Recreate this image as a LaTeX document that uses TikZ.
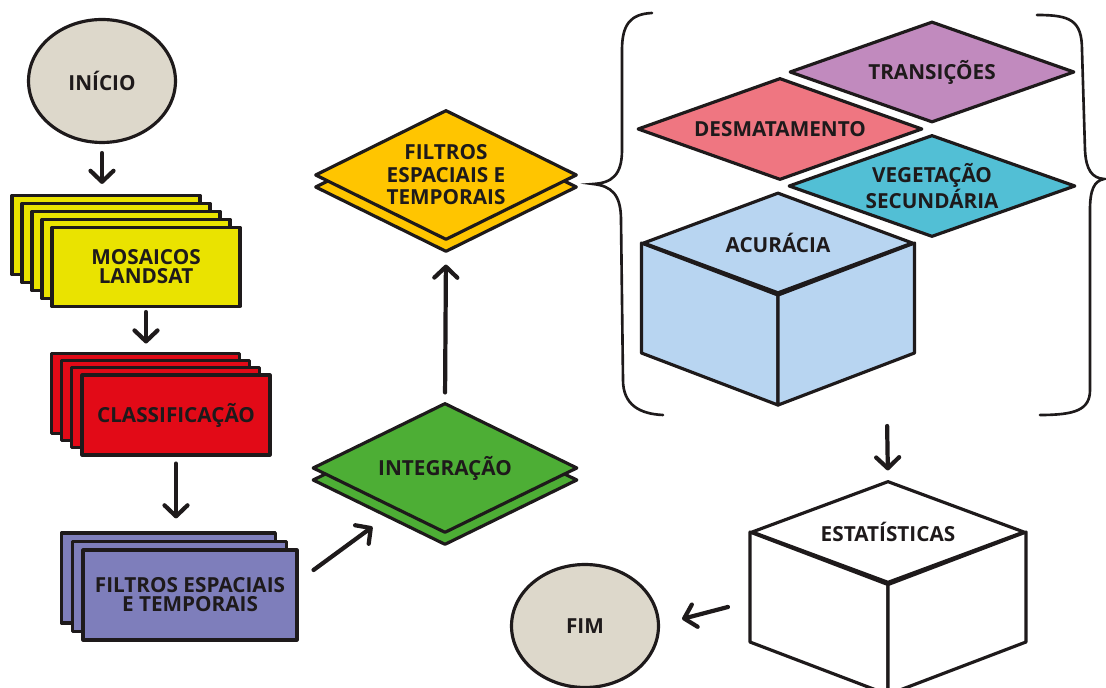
\documentclass[tikz,border=0pt]{standalone}
\usepackage{fontspec}
\setmainfont{Open Sans}
\usetikzlibrary{shapes.geometric,arrows.meta}

\definecolor{ink}{HTML}{1E1A1B}
\definecolor{bege}{HTML}{DDD8CB}
\definecolor{amarelo}{HTML}{EAE300}
\definecolor{vermelho}{HTML}{E20A17}
\definecolor{lilas}{HTML}{7E7EBB}
\definecolor{verde}{HTML}{4DAE35}
\definecolor{ouro}{HTML}{FFC500}
\definecolor{roxo}{HTML}{C18ABE}
\definecolor{rosa}{HTML}{EF7681}
\definecolor{ciano}{HTML}{52BFD5}
\definecolor{azulclaro}{HTML}{B8D5F1}

\tikzset{
  >={Straight Barb[length=2.2mm,width=4.6mm,round]},
  every node/.style={font=\fontsize{11.8}{10.8}\selectfont\bfseries, text=ink, align=center},
  contorno/.style={draw=ink, line width=1.8pt, line join=round},
  terminal/.style={contorno, ellipse, fill=bege, minimum width=2.94cm, minimum height=2.46cm, inner sep=0pt},
  folha/.style={contorno, rectangle, inner sep=0pt},
  losango/.style={contorno, diamond, inner sep=-8pt, aspect=2,
    font=\fontsize{11.8}{12.8}\selectfont\bfseries},
  seta/.style={->, draw=ink, line width=2.4pt, line cap=round},
  chave/.style={draw=ink, line width=1.5pt, line cap=round}
}

\begin{document}
\begin{tikzpicture}[x=0.02cm,y=-0.02cm]
	\useasboundingbox[fill=white] (0,0) rectangle (1106,688);

	%% coluna da esquerda
	\node[terminal] (ini) at (102,81) {INÍCIO};

	\foreach \k in {4,3,2,1}
	  \node[folha, fill=amarelo, minimum width=3.76cm, minimum height=1.58cm] (mos\k) at (146-10*\k,267-8*\k) {};
	\node[folha, fill=amarelo, minimum width=3.76cm, minimum height=1.58cm] (mos) at (146,267) {MOSAICOS\\LANDSAT};

	\foreach \k in {3,2,1}
	  \node[folha, fill=vermelho, minimum width=3.76cm, minimum height=1.6cm] (cla\k) at (176-10.3*\k,415-7.3*\k) {};
	\node[folha, fill=vermelho, minimum width=3.76cm, minimum height=1.6cm] (cla) at (176,415) {CLASSIFICAÇÃO};

	\foreach \k in {2,1}
	  \node[folha, fill=lilas, minimum width=4.28cm, minimum height=1.8cm] (fil\k) at (190-10.8*\k,595-8.5*\k) {};
	\node[folha, fill=lilas, minimum width=4.28cm, minimum height=1.8cm] (fil) at (190,595) {FILTROS ESPACIAIS\\E TEMPORAIS};

	%% losangos do meio
	\node[losango, fill=verde, minimum width=5.3cm, minimum height=2.6cm] (int2) at (445,480) {};
	\node[losango, fill=verde, minimum width=5.3cm, minimum height=2.6cm] (int) at (445,468) {INTEGRAÇÃO};

	\node[losango, fill=ouro, minimum width=5.24cm, minimum height=2.6cm] (fd2) at (446,187) {};
	\node[losango, fill=ouro, minimum width=5.24cm, minimum height=2.6cm] (fd) at (446,175) {FILTROS\\ESPACIAIS E\\TEMPORAIS};

	%% bloco da direita
	\node[losango, fill=roxo, aspect=2.8, minimum width=5.7cm, minimum height=2.02cm] (tra) at (932,72) {TRANSIÇÕES};
	\node[losango, fill=rosa, aspect=2.8, minimum width=5.7cm, minimum height=2.04cm] (des) at (780,129) {DESMATAMENTO};
	\node[losango, fill=ciano, aspect=2.8, minimum width=5.74cm, minimum height=2.04cm] (veg) at (932,186) {VEGETAÇÃO\\SECUNDÁRIA};

	\node[losango, fill=azulclaro, aspect=2.7, minimum width=5.4cm, minimum height=2.02cm] (acu) at (778,243) {ACURÁCIA};
	\draw[contorno, fill=azulclaro] (acu.west) -- ++(0,110) -- ([yshift=-22mm]acu.south) -- (acu.south) -- cycle;
	\draw[contorno, fill=azulclaro] (acu.south) -- ++(0,110) -- ([yshift=-22mm]acu.east) -- (acu.east) -- cycle;

	% chaves
	\draw[chave] (652,13) .. controls (630,14) and (622,25) .. (622,50) -- (622,150)
	  .. controls (622,175) and (612,183) .. (593,184) .. controls (612,186) and (621,195) .. (621,220)
	  -- (623,380) .. controls (623,405) and (640,414) .. (663,415);
	\draw[chave] (1037,15) .. controls (1070,15) and (1082,20) .. (1082,50) -- (1085,150)
	  .. controls (1086,170) and (1092,178) .. (1104,179) .. controls (1094,181) and (1090,190) .. (1090,210)
	  -- (1090,390) .. controls (1090,410) and (1075,415) .. (1040,415);
	\coordinate (grupo) at (887,418);

	%% estatisticas e fim
	\node[losango, fill=white, aspect=2.7, minimum width=5.46cm, minimum height=2.04cm] (est) at (888,532) {ESTATÍSTICAS};
	\draw[contorno, fill=white] (est.west) -- ++(0,110) -- ([yshift=-22mm]est.south) -- (est.south) -- cycle;
	\draw[contorno, fill=white] (est.south) -- ++(0,110) -- ([yshift=-22mm]est.east) -- (est.east) -- cycle;

	\node[terminal] (fim) at (585,626) {FIM};

	% setas
	\draw[seta, shorten <=1.8mm, shorten >=2mm] (ini.south) -- (ini.south |- mos4.north);
	\draw[seta, shorten <=0.8mm, shorten >=1.6mm] (mos.south) -- (mos.south |- cla3.north);
	\draw[seta, shorten <=1.4mm, shorten >=2.6mm] (cla.south) -- (cla.south |- fil2.north);
	\draw[seta] ([xshift=3mm,yshift=5mm]fil.east) -- ([xshift=-1.1mm,yshift=-2.7mm]int2.south west);
	\draw[seta, shorten <=1.8mm, shorten >=2.2mm] (int.north) -- (fd2.south);
	\draw[seta, shorten <=1.6mm, shorten >=1.8mm] (grupo) -- (est.north);
	\draw[seta] ([xshift=-4.4mm,yshift=-15mm]est.west) -- ([xshift=4.4mm,yshift=1.4mm]fim.east);
\end{tikzpicture}
\end{document}
